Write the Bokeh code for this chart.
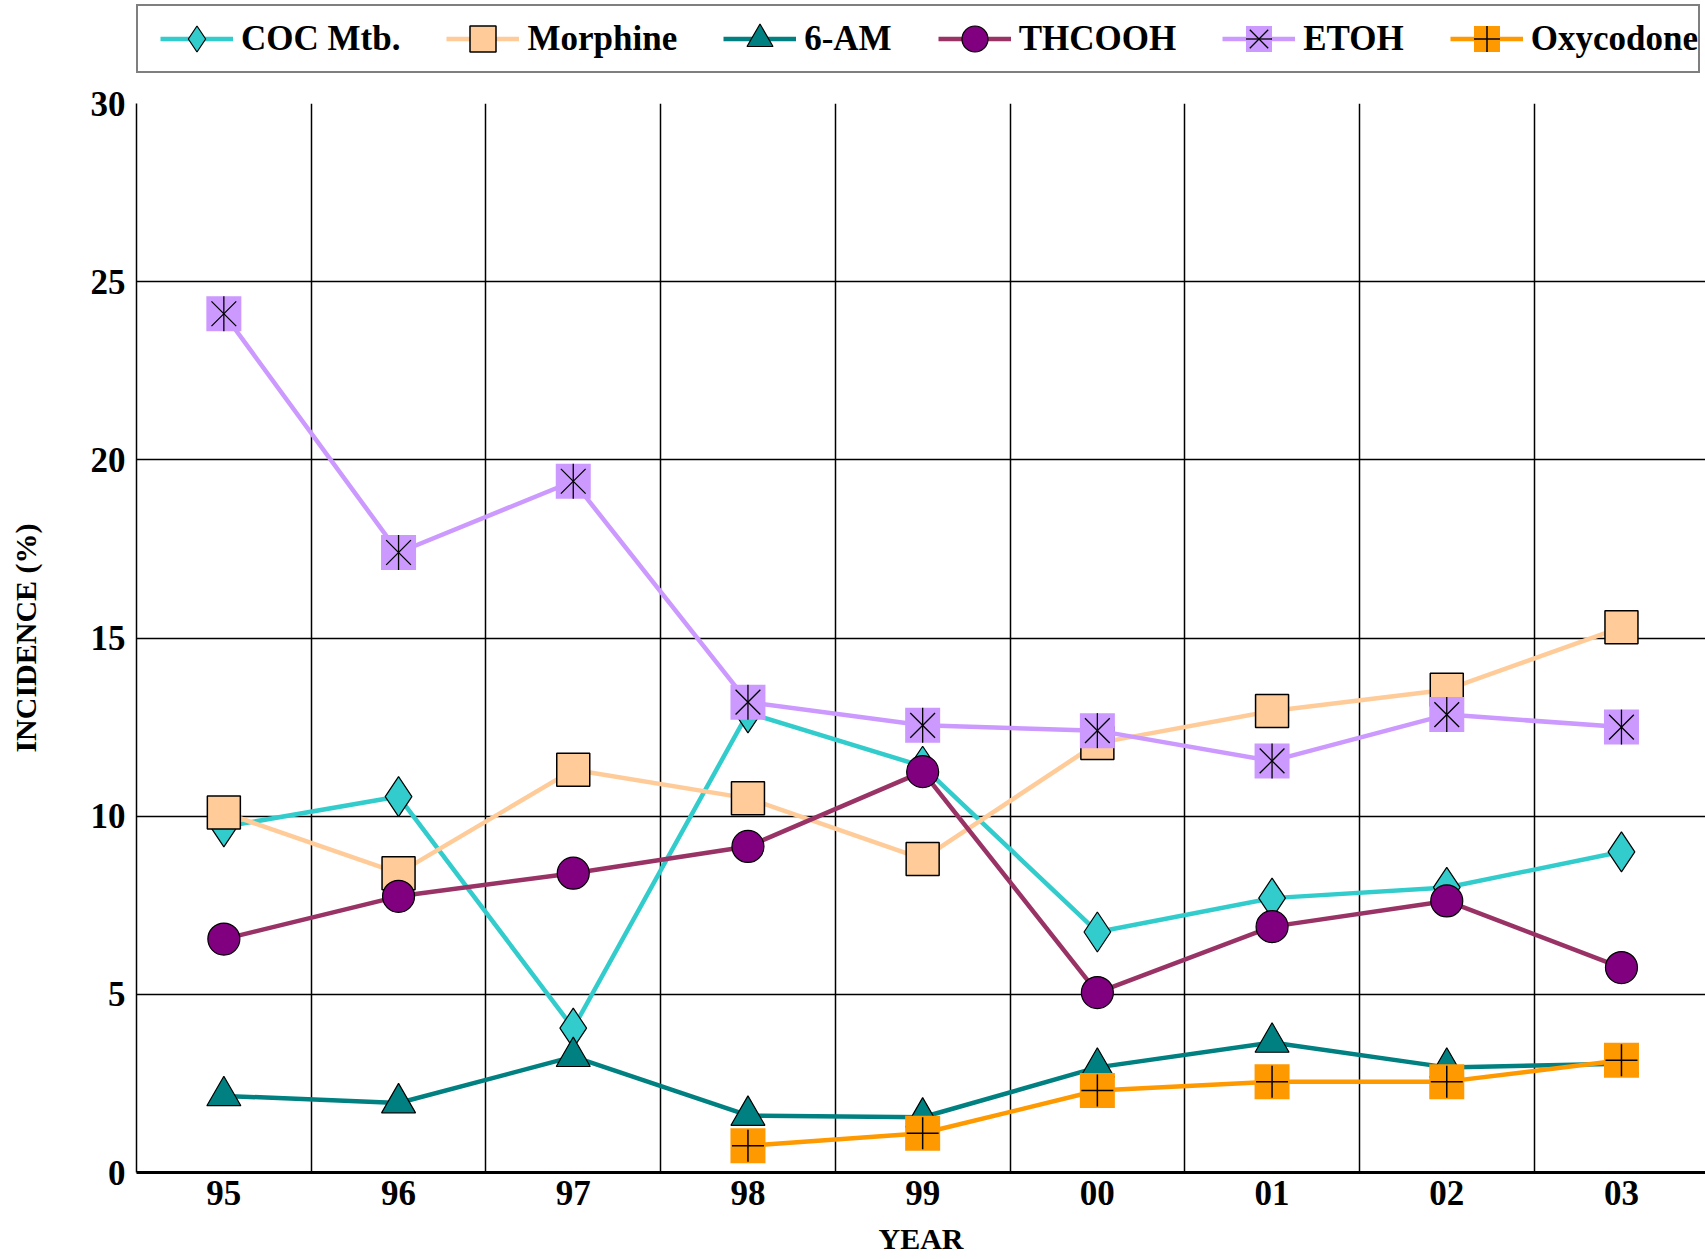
import math
from bokeh.plotting import figure
from bokeh.layouts import column
from bokeh.models import Range1d, FixedTicker, Legend, LegendItem, ColumnDataSource
from bokeh.embed import file_html
from bokeh.resources import INLINE

nan = float("nan")

# ---- data ----
years = ["95", "96", "97", "98", "99", "00", "01", "02", "03"]
coc_mtb = [9.7, 10.55, 4.05, 12.9, 11.4, 6.75, 7.7, 8.0, 9.0]
morphine = [10.1, 8.4, 11.3, 10.5, 8.8, 12.05, 12.95, 13.55, 15.3]
am6 = [2.15, 1.95, 3.25, 1.6, 1.55, 2.95, 3.65, 2.95, 3.05]
thcooh = [6.55, 7.75, 8.4, 9.15, 11.25, 5.05, 6.9, 7.62, 5.75]
etoh = [24.1, 17.4, 19.4, 13.2, 12.55, 12.4, 11.55, 12.85, 12.5]
oxycodone = [nan, nan, nan, 0.75, 1.1, 2.3, 2.55, 2.55, 3.15]

y_ticks = [0, 5, 10, 15, 20, 25, 30]

FONT = "Liberation Serif"
LW = 4.5
xpos = list(range(len(years)))

src = ColumnDataSource(dict(x=xpos, coc=coc_mtb, mor=morphine, am6=am6,
                            thc=thcooh, eto=etoh, oxy=oxycodone))


def add_series(f):
    items = []
    l1 = f.line("x", "coc", source=src, line_color="#33CCCC", line_width=LW)
    m1 = f.scatter("x", "coc", source=src, marker="diamond", size=40,
                   fill_color="#33CCCC", line_color="black", line_width=1.2)
    items.append(LegendItem(label="COC Mtb.", renderers=[l1, m1]))

    l2 = f.line("x", "mor", source=src, line_color="#FFCC99", line_width=LW)
    m2 = f.scatter("x", "mor", source=src, marker="square", size=33,
                   fill_color="#FFCC99", line_color="black", line_width=1.5)
    items.append(LegendItem(label="Morphine", renderers=[l2, m2]))

    l3 = f.line("x", "am6", source=src, line_color="#008080", line_width=LW)
    m3 = f.scatter("x", "am6", source=src, marker="triangle", size=34,
                   fill_color="#008080", line_color="black", line_width=1.2)
    items.append(LegendItem(label="6-AM", renderers=[l3, m3]))

    l4 = f.line("x", "thc", source=src, line_color="#993366", line_width=LW)
    m4 = f.scatter("x", "thc", source=src, marker="circle", size=32,
                   fill_color="#800080", line_color="black", line_width=1.2)
    items.append(LegendItem(label="THCOOH", renderers=[l4, m4]))

    l5 = f.line("x", "eto", source=src, line_color="#CC99FF", line_width=LW)
    m5 = f.scatter("x", "eto", source=src, marker="square", size=35,
                   fill_color="#CC99FF", line_color=None)
    m5b = f.scatter("x", "eto", source=src, marker="x", size=35,
                    line_color="black", line_width=1.3)
    m5c = f.scatter("x", "eto", source=src, marker="dash", angle=math.pi / 2, size=35,
                    line_color="black", line_width=1.3)
    items.append(LegendItem(label="ETOH", renderers=[l5, m5, m5b, m5c]))

    l6 = f.line("x", "oxy", source=src, line_color="#FF9900", line_width=LW)
    m6 = f.scatter("x", "oxy", source=src, marker="square", size=35,
                   fill_color="#FF9900", line_color=None)
    m6b = f.scatter("x", "oxy", source=src, marker="cross", size=32,
                    line_color="black", line_width=1.5)
    items.append(LegendItem(label="Oxycodone", renderers=[l6, m6, m6b]))
    return items


# ---- legend strip ----
lf = figure(width=1705, height=80, output_backend="svg", toolbar_location=None,
            x_range=Range1d(100, 101), y_range=Range1d(100, 101),
            min_border=0)
lf.axis.visible = False
lf.grid.visible = False
lf.outline_line_color = None
lf.background_fill_color = "white"
lf.border_fill_color = "white"
leg_items = add_series(lf)
legend = Legend(items=leg_items, orientation="horizontal", location=(0, 7),
                margin=0, padding=0, glyph_width=73, glyph_height=65,
                label_standoff=8, spacing=46,
                border_line_color="black", border_line_width=2,
                background_fill_color="white", background_fill_alpha=1.0,
                label_text_font=FONT, label_text_font_style="bold",
                label_text_font_size="35px", label_text_color="black",
                title=" ", title_location="left", title_standoff=11,
                title_text_font_size="10px")
lf.add_layout(legend, "center")

# ---- main chart ----
p = figure(width=1705, height=1179, output_backend="svg", toolbar_location=None,
           x_range=Range1d(-0.5, 8.481), y_range=Range1d(0, 30),
           min_border_left=136, min_border_right=0, min_border_top=23,
           min_border_bottom=87)
p.outline_line_color = None
p.background_fill_color = "white"
p.border_fill_color = "white"

p.xaxis.ticker = FixedTicker(ticks=xpos)
p.xaxis.major_label_overrides = {i: y for i, y in enumerate(years)}
p.yaxis.ticker = FixedTicker(ticks=y_ticks)
for ax in (p.xaxis[0], p.yaxis[0]):
    ax.major_tick_line_color = None
    ax.minor_tick_line_color = None
    ax.major_label_text_font = FONT
    ax.major_label_text_font_style = "bold"
    ax.major_label_text_font_size = "35px"
    ax.major_label_text_color = "black"
    ax.axis_label_text_font = FONT
    ax.axis_label_text_font_style = "bold"
    ax.axis_label_text_font_size = "30px"
    ax.axis_label_text_color = "black"
    ax.axis_line_color = "black"
p.yaxis.axis_line_width = 1.5
p.xaxis.axis_line_width = 3
p.xaxis.axis_label = "YEAR"
p.yaxis.axis_label = "INCIDENCE (%)"
p.xaxis.major_label_standoff = 2
p.xaxis.axis_label_standoff = 14
p.yaxis.major_label_standoff = 5
p.yaxis.axis_label_standoff = 46

p.xgrid.ticker = FixedTicker(ticks=[0.5, 1.5, 2.5, 3.5, 4.5, 5.5, 6.5, 7.5])
p.ygrid.ticker = FixedTicker(ticks=y_ticks[1:])
for g in (p.xgrid[0], p.ygrid[0]):
    g.grid_line_color = "black"
    g.grid_line_width = 1.5
    g.grid_line_alpha = 1.0

add_series(p)

layout = column(lf, p, spacing=0)
open("out.html", "w").write(file_html(layout, INLINE))
